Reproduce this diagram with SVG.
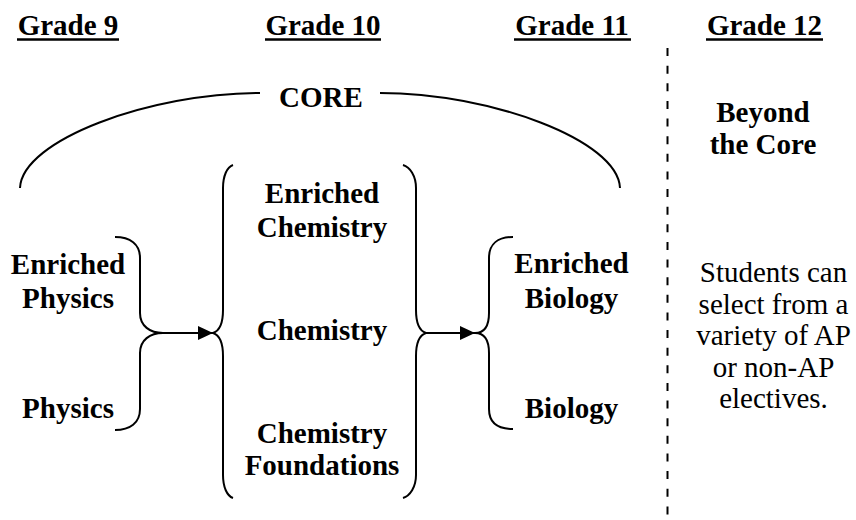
<svg xmlns="http://www.w3.org/2000/svg" width="856" height="520" viewBox="0 0 856 520">
  <style>
    .b { font-family: "Liberation Serif", "Times New Roman", Times, serif; font-weight: bold; font-size: 29px; fill: #000; text-anchor: middle; }
    .r { font-family: "Liberation Serif", "Times New Roman", Times, serif; font-weight: normal; font-size: 29px; fill: #000; text-anchor: middle; }
    .ln { fill: none; stroke: #000; stroke-width: 2; }
    .ul { stroke: #000; stroke-width: 2.5; }
  </style>
  <defs>
    <marker id="ah" markerUnits="userSpaceOnUse" markerWidth="16" markerHeight="16" viewBox="0 0 16 16" refX="15" refY="8" orient="auto">
      <polygon points="0,1 15,8 0,15" fill="#000"/>
    </marker>
  </defs>
  <rect width="856" height="520" fill="#fff"/>

  <g id="headers">
    <text class="b" x="68" y="35">Grade 9</text>
    <line class="ul" x1="17" y1="39.5" x2="119" y2="39.5"/>
    <text class="b" x="323" y="35">Grade 10</text>
    <line class="ul" x1="265" y1="39.5" x2="381" y2="39.5"/>
    <text class="b" x="572" y="35">Grade 11</text>
    <line class="ul" x1="514" y1="39.5" x2="631" y2="39.5"/>
    <text class="b" x="764.5" y="35">Grade 12</text>
    <line class="ul" x1="706" y1="39.5" x2="823" y2="39.5"/>
  </g>

  <g id="divider">
    <line x1="667.5" y1="48" x2="667.5" y2="520" stroke="#000" stroke-width="2" stroke-dasharray="8 9.63"/>
  </g>

  <g id="core">
    <path class="ln" d="M20,188 C22,140 150,93 260,93"/>
    <path class="ln" d="M380,93 C490,93 618,140 620,188"/>
    <text class="b" x="321" y="107">CORE</text>
  </g>

  <g id="beyond">
    <text class="b" x="763" y="122">Beyond</text>
    <text class="b" x="763" y="154">the Core</text>
  </g>

  <g id="grade9">
    <text class="b" x="68" y="274">Enriched</text>
    <text class="b" x="68" y="308">Physics</text>
    <text class="b" x="68" y="418">Physics</text>
  </g>

  <g id="grade10">
    <text class="b" x="322" y="203">Enriched</text>
    <text class="b" x="322" y="237">Chemistry</text>
    <text class="b" x="322" y="340">Chemistry</text>
    <text class="b" x="322" y="443">Chemistry</text>
    <text class="b" x="322" y="475">Foundations</text>
  </g>

  <g id="grade11">
    <text class="b" x="571.5" y="273">Enriched</text>
    <text class="b" x="571.5" y="308">Biology</text>
    <text class="b" x="571.5" y="418">Biology</text>
  </g>

  <g id="grade12">
    <text class="r" x="773.5" y="282">Students can</text>
    <text class="r" x="773.5" y="313.5">select from a</text>
    <text class="r" x="773.5" y="345">variety of AP</text>
    <text class="r" x="773.5" y="376.5">or non-AP</text>
    <text class="r" x="773.5" y="408">electives.</text>
  </g>

  <g id="connectors">
    <path class="ln" d="M115,237 C130,237 140,244 140,258 L140,313 C140,326 150,333 163,333 C150,333 140,340 140,353 L140,409 C140,423 130,430 115,430"/>
    <path class="ln" d="M233,165 C227,167 223,176 223,188 L223,310 C223,324 219,331 213,333 C219,335 223,342 223,356 L223,475 C223,487 227,496 233,498"/>
    <path class="ln" d="M403,165 C410,167 416,176 416,188 L416,310 C416,324 420,331 426,333 C420,335 416,342 416,356 L416,475 C416,487 410,496 403,498"/>
    <path class="ln" d="M513,237 C498,237 489,244 489,258 L489,313 C489,326 484,333 475,333 C484,333 489,340 489,353 L489,409 C489,423 498,429 513,429"/>
    <line class="ln" x1="163" y1="333" x2="213" y2="333" marker-end="url(#ah)"/>
    <line class="ln" x1="426" y1="333" x2="475" y2="333" marker-end="url(#ah)"/>
  </g>
</svg>
